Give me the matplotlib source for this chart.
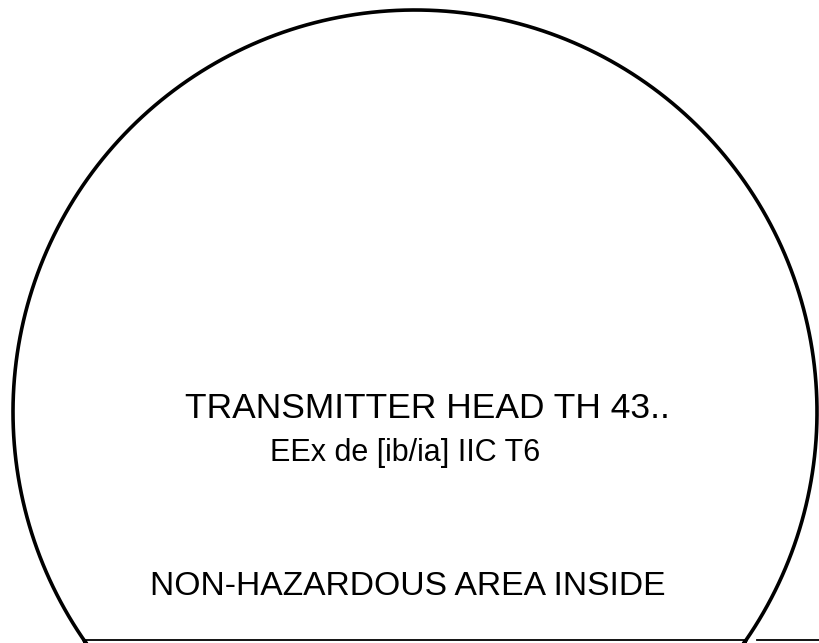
import numpy as np
import matplotlib
matplotlib.use("Agg")
import matplotlib.pyplot as plt

W, H = 819, 643
labels = ["TRANSMITTER HEAD TH 43..", "EEx de [ib/ia] IIC T6", "NON-HAZARDOUS AREA INSIDE"]
label_x = [427, 405, 408]
label_baseline = [418, 461, 595]
label_size = [25.5, 22.0, 24.2]

cx, cy, R = 415, 412, 402
base_y = 640

fig = plt.figure(figsize=(W / 100, H / 100), dpi=100)
ax = fig.add_axes([0, 0, 1, 1])
ax.set_xlim(0, W)
ax.set_ylim(H, 0)
ax.axis("off")

dy = base_y - cy
half = np.sqrt(R**2 - dy**2)
a0 = np.arctan2(dy, -half)  # bottom-left (y downward)
a1 = np.arctan2(dy, half)   # bottom-right
angles = np.linspace(a0, a1 - 2 * np.pi, 800)
ax.plot(cx + R * np.cos(angles), cy + R * np.sin(angles), color="black", lw=2.6,
        solid_capstyle="butt")

ax.plot([cx - half, cx + half], [base_y, base_y], color="black", lw=1.3)
ax.plot([757, W], [base_y, base_y], color="black", lw=1.3)

for s, x, y, fs in zip(labels, label_x, label_baseline, label_size):
    ax.text(x, y, s, ha="center", va="baseline", fontsize=fs,
            family="Liberation Sans", color="black")

fig.savefig("out.png", dpi=100, facecolor="white")
